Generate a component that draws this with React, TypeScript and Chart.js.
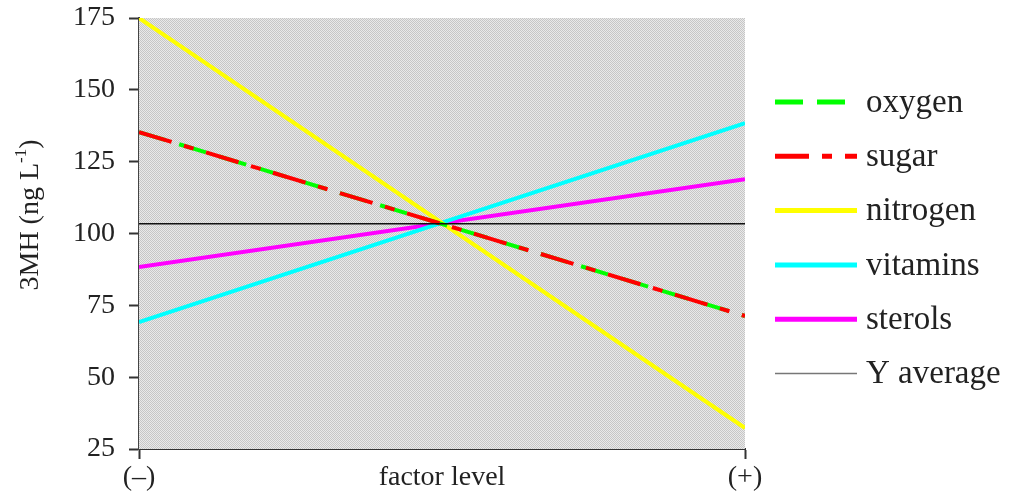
import React, { useEffect, useRef } from "react";
import { Chart, registerables } from "chart.js";

Chart.register(...registerables);

const factorLevels = [0, 1];
const xTickLabels = ["(\u2013)", "factor level", "(+)"];
const yTicks = [25, 50, 75, 100, 125, 150, 175];

const oxygen = [135.3, 71.3];
const sugar = [135.3, 71.3];
const nitrogen = [175, 32.3];
const vitamins = [69.2, 138.4];
const sterols = [88.3, 118.9];
const yAverage = [103.4, 103.4];

const legendNames = ["oxygen", "sugar", "nitrogen", "vitamins", "sterols", "Y average"];

const SERIF = "'Liberation Serif', 'DejaVu Serif', serif";

const toPoints = (vals: number[]) => vals.map((v, i) => ({ x: factorLevels[i], y: v }));

function makePattern(ctx: CanvasRenderingContext2D) {
  const c = document.createElement("canvas");
  c.width = 2;
  c.height = 2;
  const p = c.getContext("2d")!;
  p.fillStyle = "#e9e9e9";
  p.fillRect(0, 0, 2, 2);
  p.fillStyle = "#c6c6c6";
  p.fillRect(0, 0, 1, 1);
  p.fillRect(1, 1, 1, 1);
  return ctx.createPattern(c, "repeat");
}

const bgPlugin = {
  id: "plotBg",
  beforeDatasetsDraw(chart: any) {
    const { ctx, chartArea } = chart;
    ctx.save();
    const pat = makePattern(ctx);
    ctx.fillStyle = pat || "#d9d9d9";
    ctx.fillRect(chartArea.left, chartArea.top, chartArea.right - chartArea.left, chartArea.bottom - chartArea.top);
    ctx.restore();
  },
};

const extrasPlugin = {
  id: "extras",
  afterDraw(chart: any) {
    const { ctx } = chart;
    // y-axis title with superscript
    ctx.save();
    ctx.translate(31, 215);
    ctx.rotate(-Math.PI / 2);
    ctx.fillStyle = "#222";
    ctx.textBaseline = "middle";
    const main = "3MH (ng L";
    const sup = "-1";
    const close = ")";
    ctx.font = `28px ${SERIF}`;
    const wMain = ctx.measureText(main).width;
    const wClose = ctx.measureText(close).width;
    ctx.font = `17px ${SERIF}`;
    const wSup = ctx.measureText(sup).width;
    const total = wMain + wSup + wClose;
    let x = -total / 2;
    ctx.font = `28px ${SERIF}`;
    ctx.textAlign = "left";
    ctx.fillText(main, x, 0);
    x += wMain;
    ctx.font = `17px ${SERIF}`;
    ctx.fillText(sup, x, -9);
    x += wSup;
    ctx.font = `28px ${SERIF}`;
    ctx.fillText(close, x, 0);
    ctx.restore();

    // legend
    ctx.save();
    const byName: Record<string, any> = {};
    chart.data.datasets.forEach((d: any) => (byName[d.label] = d));
    legendNames.forEach((name, i) => {
      const d = byName[name];
      const y = 102 + i * 54.3;
      ctx.beginPath();
      ctx.setLineDash(d.borderDash || []);
      ctx.lineWidth = name === "Y average" ? 1.5 : 5;
      ctx.strokeStyle = name === "Y average" ? "#777" : d.borderColor;
      ctx.moveTo(775, y);
      ctx.lineTo(857, y);
      ctx.stroke();
      ctx.setLineDash([]);
      ctx.fillStyle = "#222";
      ctx.font = `33px ${SERIF}`;
      ctx.textAlign = "left";
      ctx.textBaseline = "middle";
      ctx.fillText(name, 866, y + 1);
    });
    ctx.restore();
  },
};

export default function App() {
  const ref = useRef<HTMLCanvasElement>(null);

  useEffect(() => {
    if (!ref.current) return;
    const chart = new Chart(ref.current, {
      type: "line",
      data: {
        datasets: [
          { label: "Y average", data: toPoints(yAverage), borderColor: "#111", borderWidth: 1.5, order: 0 },
          { label: "sugar", data: toPoints(sugar), borderColor: "#ff0000", borderWidth: 4, borderDash: [34, 13, 10, 13], order: 1 },
          { label: "oxygen", data: toPoints(oxygen), borderColor: "#00ff00", borderWidth: 4, borderDash: [28, 14], order: 2 },
          { label: "nitrogen", data: toPoints(nitrogen), borderColor: "#ffff00", borderWidth: 4, order: 3 },
          { label: "vitamins", data: toPoints(vitamins), borderColor: "#00ffff", borderWidth: 4, order: 4 },
          { label: "sterols", data: toPoints(sterols), borderColor: "#ff00ff", borderWidth: 4, order: 5 },
        ].map((d: any) => ({ ...d, pointRadius: 0, fill: false, tension: 0, borderCapStyle: "butt" })),
      },
      options: {
        animation: false,
        responsive: true,
        maintainAspectRatio: false,
        layout: { padding: { top: 18, right: 267, left: 0, bottom: 0 } },
        plugins: { legend: { display: false }, tooltip: { enabled: false }, title: { display: false } },
        scales: {
          x: {
            type: "linear",
            min: 0,
            max: 1,
            afterBuildTicks: (scale: any) => {
              scale.ticks = [{ value: 0 }, { value: 0.5 }, { value: 1 }];
            },
            afterFit: (scale: any) => {
              scale.height = 44;
              scale.paddingLeft = 0;
              scale.paddingRight = 0;
            },
            border: { color: "#333", width: 2 },
            grid: {
              drawOnChartArea: false,
              drawTicks: true,
              tickLength: 10,
              tickWidth: 2,
              tickColor: (c: any) => (c.tick && c.tick.value === 0.5 ? "rgba(0,0,0,0)" : "#333"),
            },
            ticks: {
              autoSkip: false,
              maxRotation: 0,
              padding: 2,
              color: "#222",
              font: { family: SERIF, size: 28 },
              callback: (_v: any, i: number) => xTickLabels[i],
            },
          },
          y: {
            min: 25,
            max: 175,
            afterBuildTicks: (scale: any) => {
              scale.ticks = yTicks.map((v) => ({ value: v }));
            },
            afterFit: (scale: any) => {
              scale.width = 139;
              scale.paddingTop = 0;
              scale.paddingBottom = 0;
            },
            border: { color: "#444", width: 2 },
            grid: { drawOnChartArea: false, drawTicks: true, tickLength: 10, tickWidth: 2, tickColor: "#333" },
            ticks: {
              padding: 14,
              color: "#222",
              font: { family: SERIF, size: 28 },
            },
          },
        },
      },
      plugins: [bgPlugin, extrasPlugin],
    });
    return () => chart.destroy();
  }, []);

  return (
    <div style={{ position: "absolute", left: 0, top: 0, width: 1012, height: 493, background: "#fff" }}>
      <canvas ref={ref} />
    </div>
  );
}
